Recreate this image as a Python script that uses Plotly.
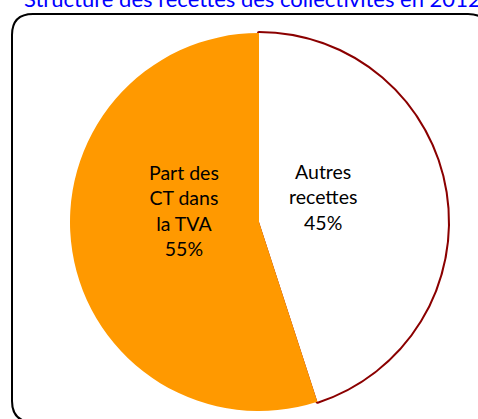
import plotly.graph_objects as go

# Data
labels = ["Autres<br>recettes", "Part des<br>CT dans<br>la TVA"]
values = [45, 55]
colors = ["#FFFFFF", "#FF9900"]
title_text = "Structure des recettes des collectivités en 2012"

W, H = 478, 419
FONT = "Lato"

def px(x):
    return x / W

def py(y):
    return 1 - y / H

domain = dict(x=[px(70), px(448)], y=[py(411), py(33)])

fig = go.Figure()
# Outline layer (dark red arc around the white slice)
fig.add_trace(go.Pie(
    labels=labels, values=values, sort=False, direction="clockwise", rotation=0,
    marker=dict(colors=["rgba(0,0,0,0)", "rgba(0,0,0,0)"],
                line=dict(color=["#8B0000", "rgba(0,0,0,0)"], width=[4, 0])),
    textinfo="none", hoverinfo="skip", showlegend=False, domain=domain,
))
# Fill layer
fig.add_trace(go.Pie(
    labels=labels, values=values, sort=False, direction="clockwise", rotation=0,
    marker=dict(colors=colors, line=dict(width=0)),
    textinfo="none", showlegend=False, domain=domain,
))

# Data labels
label_pos = [(323, 197), (184, 210)]
for lab, val, (lx, ly) in zip(labels, values, label_pos):
    fig.add_annotation(
        x=px(lx), y=py(ly), xref="paper", yref="paper",
        text=f"{lab}<br>{val}%", showarrow=False,
        font=dict(family=FONT, size=19.5, color="#000000"),
        align="center", xanchor="center", yanchor="middle",
    )

# Title (partially cut off at the top)
fig.add_annotation(
    x=px(22), y=py(6), xref="paper", yref="paper",
    text=title_text, showarrow=False,
    font=dict(family=FONT, size=22, color="#0000FF"),
    xanchor="left", yanchor="bottom", yshift=-8,
)

# Rounded chart border (extends past right and bottom edges)
x0, y0, x1, y1, r = px(12), py(14), px(489), py(422), 21
rx, ry = r / W, r / H
path = (f"M {x0+rx},{y0} L {x1-rx},{y0} Q {x1},{y0} {x1},{y0-ry} "
        f"L {x1},{y1+ry} Q {x1},{y1} {x1-rx},{y1} L {x0+rx},{y1} "
        f"Q {x0},{y1} {x0},{y1+ry} L {x0},{y0-ry} Q {x0},{y0} {x0+rx},{y0} Z")
fig.add_shape(type="path", path=path, xref="paper", yref="paper",
              line=dict(color="#000000", width=2))

fig.update_layout(
    width=W, height=H,
    margin=dict(l=0, r=0, t=0, b=0),
    paper_bgcolor="white", plot_bgcolor="white",
    font=dict(family=FONT),
)

fig.write_html("out.html", config={"displayModeBar": False},
               post_script="document.body.style.margin='0';document.body.style.overflow='hidden';")
